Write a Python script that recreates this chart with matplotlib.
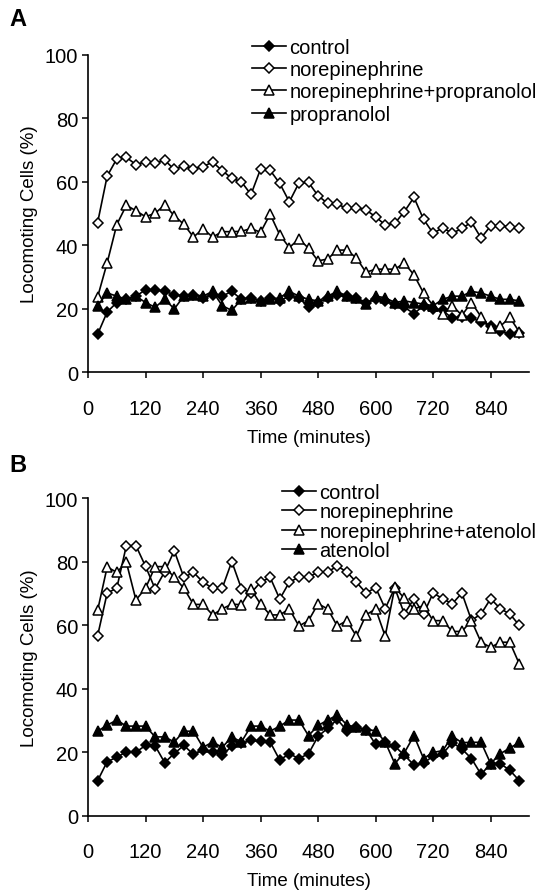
import matplotlib
matplotlib.use("Agg")
import matplotlib.pyplot as plt

plt.rcParams['font.family'] = ['Liberation Sans', 'DejaVu Sans']

minutes = [20, 40, 60, 80, 100, 120, 140, 160, 180, 200, 220, 240, 260, 280, 300,
           320, 340, 360, 380, 400, 420, 440, 460, 480, 500, 520, 540, 560, 580, 600,
           620, 640, 660, 680, 700, 720, 740, 760, 780, 800, 820, 840, 860, 880, 900]

# panel A
a_control = [12, 19, 22, 23, 24, 26, 26, 25.5, 24.5, 24, 24.5, 23.5, 24.5, 24, 25.5,
             23, 23.5, 22.5, 23.5, 22.5, 24, 23.5, 20.5, 22, 23.5, 24.5, 24, 23.5, 22, 23,
             22.5, 21.5, 20.5, 18.5, 21, 20, 19.5, 17, 17.5, 17, 16, 14.5, 13, 12, 12.5]
a_ne = [47.1, 61.8, 67.2, 67.7, 65.4, 66.3, 65.8, 66.8, 63.9, 65.0, 64.1, 64.8, 66.2, 63.5, 61.1,
        60.0, 56.0, 64.0, 63.6, 59.5, 53.7, 59.6, 59.8, 55.6, 53.2, 52.9, 51.7, 51.9, 51.1, 49.0,
        46.4, 46.9, 50.6, 55.1, 48.2, 43.8, 45.5, 43.8, 45.3, 47.3, 42.3, 46.1, 46.1, 45.9, 45.5]
a_ne_prop = [23.7, 34.5, 46.5, 52.6, 50.9, 49.0, 50.1, 52.7, 49.3, 46.6, 42.6, 45.2, 42.6, 44.3, 44.3,
             44.4, 45.3, 44.1, 49.8, 43.3, 39.3, 42.0, 39.1, 35.1, 35.7, 38.5, 38.5, 36.0, 31.5, 32.5,
             32.5, 32.5, 34.4, 30.7, 25.0, 21, 18.5, 21, 18, 22, 17.5, 14, 14.5, 17.3, 12.7]
a_prop = [21, 25, 24, 23, 24, 22, 20.5, 23, 20, 24, 24.5, 24, 25.5, 21, 19.5,
          23, 23.5, 22.5, 23, 23.5, 25.5, 24, 23, 22.5, 24, 25.5, 24, 23.5, 21.5, 24,
          23.5, 22, 22.5, 22, 21.5, 21, 23, 24, 24, 25.5, 25, 24, 23, 23, 22.5]

# panel B
b_control = [11, 17, 18.4, 20.1, 20, 22.1, 22, 16.7, 19.6, 22.1, 19.3, 20.8, 20.1, 19, 21.9,
             22.8, 23.7, 23.4, 23.2, 17.5, 19.5, 18, 19.5, 25, 27.5, 30.3, 26.8, 28, 27, 22.5,
             23.2, 21.9, 19, 16, 16.5, 18.8, 19.5, 23, 21, 18, 13, 16.4, 16.4, 14.3, 11]
b_ne = [56.6, 70.1, 71.6, 85.0, 85.0, 78.5, 71.4, 76.8, 83.4, 75.0, 76.6, 73.5, 71.6, 71.6, 80.0,
        71.5, 70.1, 73.5, 75.0, 68.2, 73.5, 75.1, 75.1, 76.7, 76.7, 78.6, 76.7, 73.5, 70.1, 71.8,
        65.2, 71.7, 63.5, 68.3, 63.5, 70.1, 68.3, 66.7, 70.1, 61.5, 63.5, 68.3, 65.2, 63.5, 59.9]
b_ne_aten = [64.6, 78.3, 76.6, 79.8, 67.9, 71.6, 78.4, 78.4, 75.0, 71.6, 66.5, 66.5, 63.2, 65.1, 66.6,
             66.4, 71.3, 66.6, 63.2, 63.2, 65.1, 59.7, 61.4, 66.7, 65.1, 59.7, 61.4, 56.5, 63.2, 65.1,
             56.5, 71.9, 68.4, 65.1, 66.1, 61.4, 61.4, 58.0, 58.0, 61.4, 54.6, 53.0, 54.6, 54.6, 47.7]
b_aten = [26.6, 28.5, 30.1, 28.2, 28.2, 28.2, 24.8, 24.8, 23.2, 26.6, 26.6, 21.5, 23.2, 21.5, 24.8,
          23.2, 28.2, 28.2, 26.6, 28.2, 30.1, 30.1, 25.2, 28.4, 30.1, 31.7, 28.6, 27.8, 27, 26.8,
          23.2, 16.4, 19.8, 25.2, 18, 19.9, 20.5, 25, 23, 23.1, 23.1, 16.4, 19.5, 21.3, 23.1]

xticks = [0, 120, 240, 360, 480, 600, 720, 840]
yticks = [0, 20, 40, 60, 80, 100]

W, H = 547, 895
fig = plt.figure(figsize=(W / 100, H / 100), dpi=100)

def panel(rect, series, labels, letter, leg_xy, leg_gap):
    ax = fig.add_axes(rect)
    styles = [dict(marker="D", mfc="k", ms=5.2),
              dict(marker="D", mfc="white", ms=5.2),
              dict(marker="^", mfc="white", ms=6.5),
              dict(marker="^", mfc="k", ms=6.5)]
    hs = []
    for ys, st, lab in zip(series, styles, labels):
        h, = ax.plot(minutes, ys, color="k", lw=1.2, mec="k", mew=1.1, label=lab, **st)
        hs.append(h)
    ax.set_xlim(0, 920); ax.set_ylim(0, 100)
    ax.set_xticks(xticks); ax.set_yticks(yticks)
    for s in ("top", "right"): ax.spines[s].set_visible(False)
    ax.spines["left"].set_linewidth(1.2); ax.spines["bottom"].set_linewidth(1.2)
    ax.tick_params(axis="x", length=4, width=1.1, pad=15, labelsize=14.5)
    ax.tick_params(axis="y", length=4, width=1.1, pad=3, labelsize=14.5)
    ax.set_xlabel("Time (minutes)", fontsize=13.5, labelpad=8)
    ax.set_ylabel("Locomoting Cells (%)", fontsize=13.5, labelpad=5)
    fig.text(9 / W, 1 - letter / H, "A" if letter < 400 else "B", fontsize=17, fontweight="bold", va="center")
    fig.legend(handles=hs, loc="upper left", bbox_to_anchor=(leg_xy[0] / W, 1 - leg_xy[1] / H),
               frameon=False, fontsize=14.5, numpoints=1, handlelength=1.7, handletextpad=0.15,
               labelspacing=leg_gap, borderpad=0, borderaxespad=0)
    return ax

panel([88 / W, 1 - 373.4 / H, 441 / W, 317.7 / H], [a_control, a_ne, a_ne_prop, a_prop],
      ["control", "norepinephrine", "norepinephrine+propranolol", "propranolol"], 20, (252, 39), 0.16)
panel([88 / W, 1 - 816.7 / H, 441 / W, 317.7 / H], [b_control, b_ne, b_ne_aten, b_aten],
      ["control", "norepinephrine", "norepinephrine+atenolol", "atenolol"], 466, (282, 484), 0.02)

fig.savefig("out.png", dpi=100)
